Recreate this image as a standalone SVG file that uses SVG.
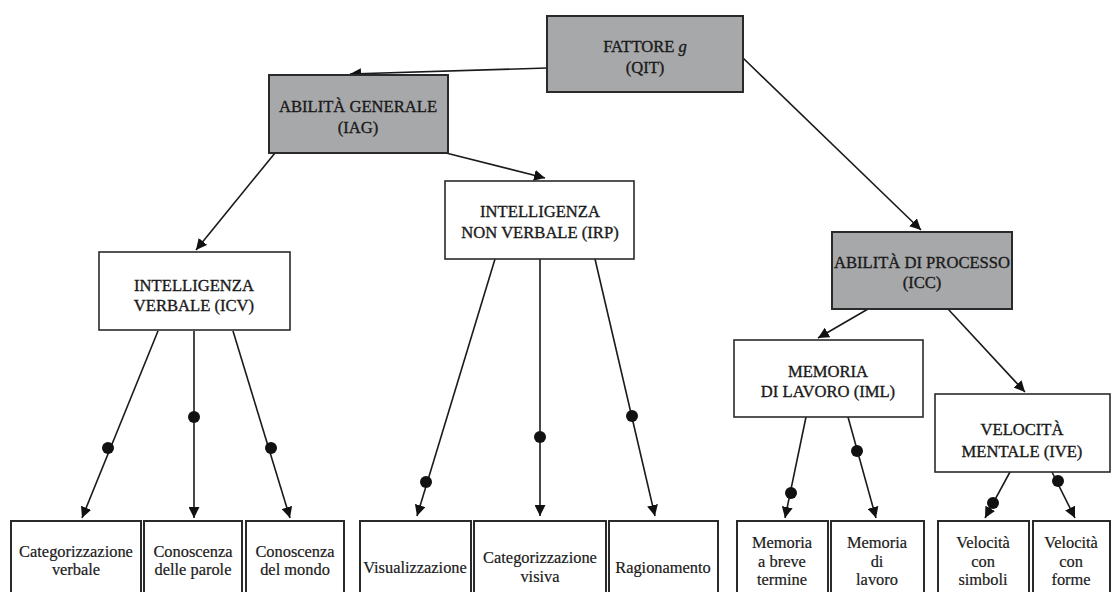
<svg xmlns="http://www.w3.org/2000/svg" width="1112" height="592" viewBox="0 0 1112 592">
<style>
.g{fill:#a7a8aa;stroke:#2a2a2a;stroke-width:2}
.w{fill:#fff;stroke:#2a2a2a;stroke-width:1.6}
.b{fill:#fff;stroke:#2a2a2a;stroke-width:2}
.t{font-family:"Liberation Serif",serif;font-size:16.6px;fill:#1a1a1a;stroke:#1a1a1a;stroke-width:0.35;text-anchor:middle}
.s{font-family:"Liberation Serif",serif;font-size:16.4px;fill:#1a1a1a;stroke:#1a1a1a;stroke-width:0.2;text-anchor:middle}
.c{stroke:#1a1a1a;stroke-width:1.6;fill:none;marker-end:url(#ah)}
.d{fill:#111}
</style>
<defs>
<marker id="ah" viewBox="0 0 10 10" refX="10" refY="5" markerWidth="11" markerHeight="11" markerUnits="userSpaceOnUse" orient="auto">
<path d="M0,0 L10,5 L0,10 z" fill="#111"/>
</marker>
</defs>
<rect width="1112" height="592" fill="#fff"/>
<g id="connectors">
<line class="c" x1="547" y1="68" x2="350" y2="74"/>
<line class="c" x1="742" y1="57" x2="921" y2="230"/>
<line class="c" x1="275" y1="153" x2="196" y2="250"/>
<line class="c" x1="446" y1="153" x2="545" y2="178"/>
<line class="c" x1="868" y1="309" x2="818" y2="338"/>
<line class="c" x1="948" y1="309" x2="1025" y2="392"/>
<line class="c" x1="158" y1="331" x2="82" y2="518"/>
<line class="c" x1="194" y1="331" x2="194" y2="518"/>
<line class="c" x1="233" y1="331" x2="290" y2="518"/>
<line class="c" x1="495" y1="259" x2="417" y2="516"/>
<line class="c" x1="540" y1="259" x2="540" y2="516"/>
<line class="c" x1="595" y1="259" x2="655" y2="516"/>
<line class="c" x1="806" y1="417" x2="785" y2="518"/>
<line class="c" x1="848" y1="417" x2="876" y2="518"/>
<line class="c" x1="1010" y1="472" x2="985" y2="518"/>
<line class="c" x1="1052" y1="472" x2="1075" y2="518"/>
<circle class="d" cx="108" cy="448" r="6"/>
<circle class="d" cx="194" cy="417" r="6"/>
<circle class="d" cx="271" cy="448" r="6"/>
<circle class="d" cx="426" cy="482" r="6"/>
<circle class="d" cx="540" cy="437" r="6"/>
<circle class="d" cx="632" cy="416" r="6"/>
<circle class="d" cx="791" cy="493" r="6"/>
<circle class="d" cx="857" cy="451" r="6"/>
<circle class="d" cx="993" cy="503" r="6"/>
<circle class="d" cx="1058" cy="481" r="6"/>
</g>
<g id="n-qit"><rect class="g" x="547" y="16" width="196" height="76"/><text class="t" x="645" y="52">FATTORE <tspan font-style="italic">g</tspan></text><text class="t" x="645" y="73">(QIT)</text></g>
<g id="n-iag"><rect class="g" x="269" y="75" width="179" height="78"/><text class="t" x="358" y="112">ABILITÀ GENERALE</text><text class="t" x="358" y="133">(IAG)</text></g>
<g id="n-icv"><rect class="w" x="99" y="252" width="191" height="78"/><text class="t" x="194" y="291">INTELLIGENZA</text><text class="t" x="194" y="311">VERBALE (ICV)</text></g>
<g id="n-irp"><rect class="w" x="445" y="181" width="189" height="78"/><text class="t" x="540" y="217">INTELLIGENZA</text><text class="t" x="540" y="238">NON VERBALE (IRP)</text></g>
<g id="n-icc"><rect class="g" x="832" y="232" width="180" height="77"/><text class="t" x="922" y="268">ABILITÀ DI PROCESSO</text><text class="t" x="922" y="288">(ICC)</text></g>
<g id="n-iml"><rect class="w" x="734" y="340" width="189" height="77"/><text class="t" x="828" y="377">MEMORIA</text><text class="t" x="828" y="397">DI LAVORO (IML)</text></g>
<g id="n-ive"><rect class="w" x="935" y="394" width="175" height="78"/><text class="t" x="1022" y="435">VELOCITÀ</text><text class="t" x="1022" y="457">MENTALE (IVE)</text></g>
<g id="n-cv"><rect class="b" x="11" y="521" width="130" height="80"/><text class="s" x="76" y="557">Categorizzazione</text><text class="s" x="76" y="575">verbale</text></g>
<g id="n-cp"><rect class="b" x="144" y="521" width="98" height="80"/><text class="s" x="193" y="557">Conoscenza</text><text class="s" x="193" y="575">delle parole</text></g>
<g id="n-cm"><rect class="b" x="246" y="521" width="98" height="80"/><text class="s" x="295" y="557">Conoscenza</text><text class="s" x="295" y="575">del mondo</text></g>
<g id="n-vi"><rect class="b" x="360" y="521" width="111" height="80"/><text class="s" x="415" y="573">Visualizzazione</text></g>
<g id="n-cvi"><rect class="b" x="474" y="521" width="132" height="80"/><text class="s" x="540" y="563">Categorizzazione</text><text class="s" x="540" y="582">visiva</text></g>
<g id="n-ra"><rect class="b" x="609" y="521" width="109" height="80"/><text class="s" x="663" y="573">Ragionamento</text></g>
<g id="n-mb"><rect class="b" x="737" y="521" width="91" height="80"/><text class="s" x="782" y="548">Memoria</text><text class="s" x="782" y="567">a breve</text><text class="s" x="782" y="585">termine</text></g>
<g id="n-ml"><rect class="b" x="831" y="521" width="93" height="80"/><text class="s" x="877" y="548">Memoria</text><text class="s" x="877" y="567">di</text><text class="s" x="877" y="585">lavoro</text></g>
<g id="n-vs"><rect class="b" x="938" y="521" width="91" height="80"/><text class="s" x="983" y="548">Velocità</text><text class="s" x="983" y="567">con</text><text class="s" x="983" y="585">simboli</text></g>
<g id="n-vf"><rect class="b" x="1033" y="521" width="77" height="80"/><text class="s" x="1071" y="548">Velocità</text><text class="s" x="1071" y="567">con</text><text class="s" x="1071" y="585">forme</text></g>
</svg>
